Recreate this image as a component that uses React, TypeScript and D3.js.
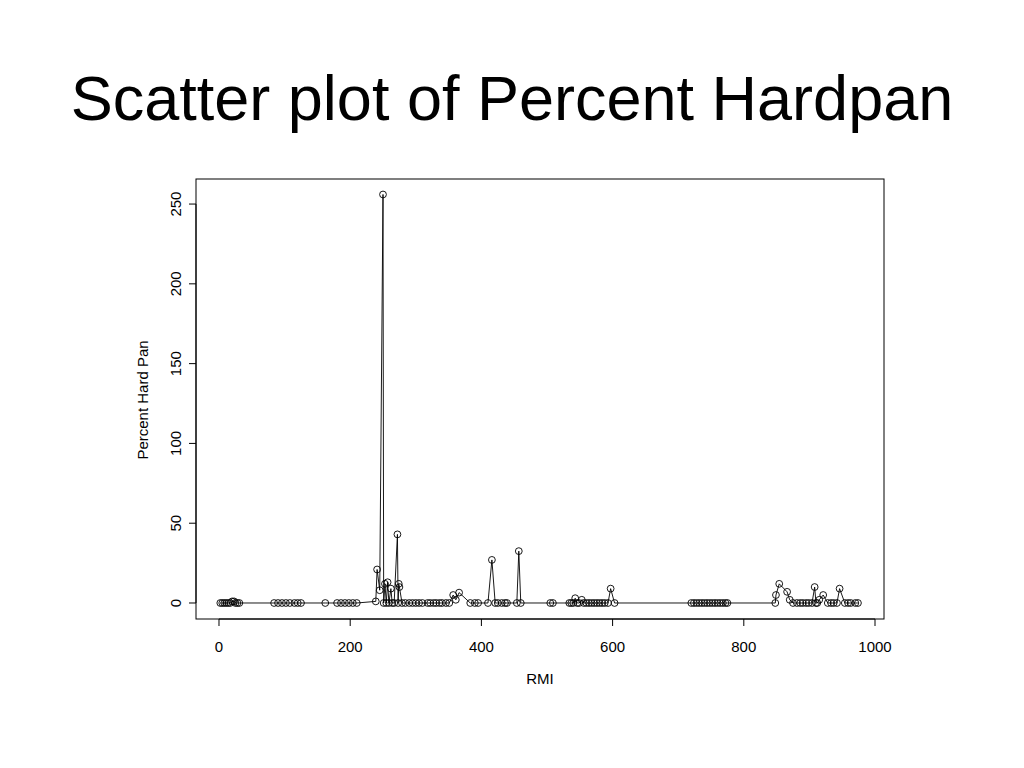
import React from "react";
import * as d3 from "d3";

const title = "Scatter plot of Percent Hardpan";
const xLabel = "RMI";
const yLabel = "Percent Hard Pan";

const rmiValues = [
  2, 5, 8, 11, 14, 17, 20, 23, 25, 28, 31,
  84, 90, 96, 102, 108, 115, 120, 125,
  162,
  180, 186, 192, 198, 204, 210,
  239, 241, 245, 250, 251, 253, 255, 257, 259, 262, 264, 267, 272, 273, 274, 275,
  279, 284, 290, 295, 300, 305, 310, 318, 322, 327, 331, 336, 340, 346, 351,
  357, 361, 366, 383, 390, 395, 410, 416, 421, 425, 431, 436, 439, 454, 457, 460,
  505, 509,
  534, 537, 540, 543, 546, 549, 553, 556, 560, 564, 568, 572, 576, 580, 584, 588, 593, 597, 603,
  720, 724, 728, 732, 736, 740, 744, 748, 752, 756, 760, 764, 768, 772, 775,
  848, 849, 854, 866, 870, 875, 881, 886, 890, 895, 899, 904, 908, 910, 912, 915, 921,
  928, 933, 937, 942, 946, 954, 959, 963, 970, 974,
];

const hardpanValues = [
  0, 0, 0, 0, 0, 0, 1, 1, 0, 0, 0,
  0, 0, 0, 0, 0, 0, 0, 0,
  0,
  0, 0, 0, 0, 0, 0,
  1, 21, 8, 256, 0, 12, 0, 13, 0, 9, 0, 0, 43, 0, 12, 10,
  0, 0, 0, 0, 0, 0, 0, 0, 0, 0, 0, 0, 0, 0, 0,
  5, 2, 6.5, 0, 0, 0, 0, 27, 0, 0, 0, 0, 0, 0, 32.5, 0,
  0, 0,
  0, 0, 0, 3, 0, 0, 2, 0, 0, 0, 0, 0, 0, 0, 0, 0, 0, 9, 0,
  0, 0, 0, 0, 0, 0, 0, 0, 0, 0, 0, 0, 0, 0, 0,
  0, 5, 12, 7, 2, 0, 0, 0, 0, 0, 0, 0, 10, 0, 0, 2, 5,
  0, 0, 0, 0, 9, 0, 0, 0, 0, 0,
];

const xTicks = [0, 200, 400, 600, 800, 1000];
const yTicks = [0, 50, 100, 150, 200, 250];

const FONT = "'Liberation Sans', Arial, Helvetica, sans-serif";

export default function App() {
  const width = 1024;
  const height = 768;
  const box = { left: 196, right: 884, top: 179, bottom: 619 };

  const x = d3.scaleLinear().domain([-35.06, 1013.7]).range([box.left, box.right]);
  const y = d3.scaleLinear().domain([-10.03, 265.7]).range([box.bottom, box.top]);

  const pts = rmiValues.map((r, i) => [r, hardpanValues[i]] as [number, number]);
  const line = d3
    .line<[number, number]>()
    .x((d) => x(d[0]))
    .y((d) => y(d[1]));

  const tickLen = 7;
  const fs = 15;

  return (
    <svg
      width={width}
      height={height}
      style={{ position: "absolute", left: 0, top: 0, background: "#fff" }}
      fontFamily={FONT}
    >
      <rect x={0} y={0} width={width} height={height} fill="#fff" />
      <text x={512} y={120} textAnchor="middle" fontSize={63} fill="#000">
        {title}
      </text>

      <rect
        x={box.left}
        y={box.top}
        width={box.right - box.left}
        height={box.bottom - box.top}
        fill="none"
        stroke="#000"
        strokeWidth={1}
      />

      {/* x axis */}
      <line x1={x(xTicks[0])} x2={x(xTicks[xTicks.length - 1])} y1={box.bottom} y2={box.bottom} stroke="#000" />
      {xTicks.map((t) => (
        <g key={"x" + t}>
          <line x1={x(t)} x2={x(t)} y1={box.bottom} y2={box.bottom + tickLen} stroke="#000" />
          <text x={x(t)} y={652} textAnchor="middle" fontSize={fs} fill="#000">
            {t}
          </text>
        </g>
      ))}
      <text x={(box.left + box.right) / 2} y={684} textAnchor="middle" fontSize={fs} fill="#000">
        {xLabel}
      </text>

      {/* y axis */}
      <line x1={box.left} x2={box.left} y1={y(yTicks[0])} y2={y(yTicks[yTicks.length - 1])} stroke="#000" />
      {yTicks.map((t) => (
        <g key={"y" + t}>
          <line x1={box.left} x2={box.left - tickLen} y1={y(t)} y2={y(t)} stroke="#000" />
          <text
            transform={`translate(181, ${y(t)}) rotate(-90)`}
            textAnchor="middle"
            fontSize={fs}
            fill="#000"
          >
            {t}
          </text>
        </g>
      ))}
      <text
        transform={`translate(148, ${(box.top + box.bottom) / 2 + 1}) rotate(-90)`}
        textAnchor="middle"
        fontSize={fs}
        fill="#000"
      >
        {yLabel}
      </text>

      <path d={line(pts) || ""} fill="none" stroke="#000" strokeWidth={0.9} />
      {pts.map((p, i) => (
        <circle key={i} cx={x(p[0])} cy={y(p[1])} r={3.4} fill="none" stroke="#000" strokeWidth={0.9} />
      ))}
    </svg>
  );
}
